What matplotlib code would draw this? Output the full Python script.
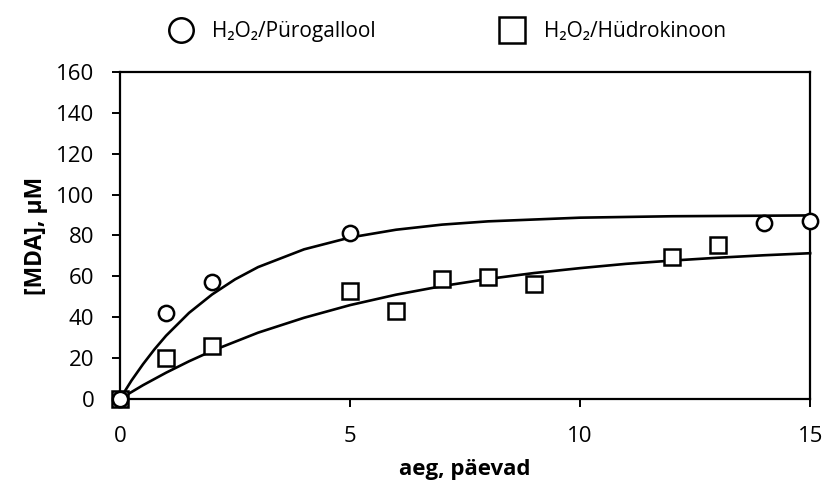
import matplotlib.pyplot as plt

# measured points
days_pyro = [0, 1, 2, 5, 14, 15]
mda_pyro = [0, 42, 57, 81, 86, 87]
days_hydro = [0, 1, 2, 5, 6, 7, 8, 9, 12, 13]
mda_hydro = [0, 20, 26, 53, 43, 58.5, 59.5, 56, 69.5, 75.3]

# fitted curves
fit_x_pyro = [0, 0.25, 0.5, 0.75, 1, 1.5, 2, 2.5, 3, 4, 5, 6, 7, 8, 10, 12, 15]
fit_y_pyro = [0, 9.0, 17.0, 24.3, 30.9, 42.1, 51.1, 58.5, 64.5, 73.2, 79.0, 82.8, 85.3,
              86.9, 88.7, 89.4, 89.8]
fit_x_hydro = [0, 0.5, 1, 1.5, 2, 3, 4, 5, 6, 7, 8, 9, 10, 11, 12, 13, 14, 15]
fit_y_hydro = [0, 6.7, 12.8, 18.4, 23.5, 32.4, 39.7, 45.9, 51.0, 55.2, 58.7, 61.6, 64.0,
               66.1, 67.7, 69.1, 70.3, 71.3]

plt.rcParams['font.family'] = ['Open Sans', 'DejaVu Sans']

fig = plt.figure(figsize=(8.25, 4.9), dpi=100)
ax = fig.add_axes([0.1455, 0.186, 0.8365, 0.667])

ax.plot(fit_x_pyro, fit_y_pyro, color='black', lw=1.9, clip_on=False)
ax.plot(fit_x_hydro, fit_y_hydro, color='black', lw=1.9, clip_on=False)

ax.plot(days_pyro, mda_pyro, linestyle='none', marker='o', markersize=11,
        markerfacecolor='white', markeredgecolor='black', markeredgewidth=1.8,
        clip_on=False, zorder=4, label='H₂O₂/Pürogallool')
ax.plot(days_hydro, mda_hydro, linestyle='none', marker='s', markersize=12,
        markerfacecolor='white', markeredgecolor='black', markeredgewidth=1.8,
        clip_on=False, zorder=3, label='H₂O₂/Hüdrokinoon')

ax.set_xlim(0, 15)
ax.set_ylim(0, 160)
ax.set_xticks([0, 5, 10, 15])
ax.set_yticks(range(0, 161, 20))
for s in ax.spines.values():
    s.set_linewidth(1.6)
ax.tick_params(direction='out', length=5.5, width=1.4, labelsize=16, colors='black')
ax.tick_params(axis='x', pad=14)
ax.tick_params(axis='y', pad=13)
ax.set_xlabel('aeg, päevad', fontsize=16, fontweight='bold', labelpad=9)
ax.set_ylabel('[MDA], µM', fontsize=16.5, fontweight='bold', labelpad=6)

fig.legend(loc='center left', bbox_to_anchor=(0.2024, 0.935), ncol=2,
           frameon=False, fontsize=15, markerscale=1.6, handlelength=1.3,
           handletextpad=0.87, columnspacing=5.9, borderpad=0, borderaxespad=0)

fig.savefig('out.png', dpi=100)
